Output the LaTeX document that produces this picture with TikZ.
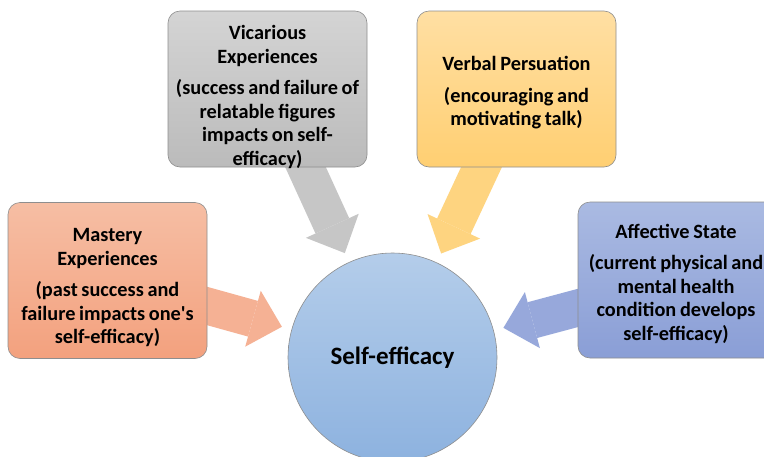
\documentclass[tikz,border=0pt]{standalone}
\usepackage{fontspec}
\setmainfont[WordSpace=0.8]{Carlito}
\usetikzlibrary{arrows.meta}

\definecolor{edgegray}{HTML}{8E8E8E}
\definecolor{masttop}{HTML}{F6BEA4}
\definecolor{mastbot}{HTML}{F3A17E}
\definecolor{mastarrow}{HTML}{F5B194}
\definecolor{victop}{HTML}{D4D4D4}
\definecolor{vicbot}{HTML}{BBBBBB}
\definecolor{vicarrow}{HTML}{C6C6C6}
\definecolor{verbtop}{HTML}{FFDFA3}
\definecolor{verbbot}{HTML}{FFCF72}
\definecolor{verbarrow}{HTML}{FED480}
\definecolor{afftop}{HTML}{AABAE2}
\definecolor{affbot}{HTML}{8A9ED6}
\definecolor{affarrow}{HTML}{97A8DB}
\definecolor{selftop}{HTML}{B4CDEA}
\definecolor{selfbot}{HTML}{8DB2DF}

\pgfdeclarelayer{back}
\pgfsetlayers{back,main}

\begin{document}
\begin{tikzpicture}[x=1pt,y=1pt]
	\tikzset{source/.style={draw=edgegray,line width=0.6pt,rounded corners=12pt,minimum width=199pt,minimum height=156pt},
		caption/.style={align=center,inner sep=0pt,font=\bfseries\fontsize{20.3}{23.5}\selectfont},
		feed/.style={line width=37pt,shorten >=10pt,-{Triangle[width=58pt,length=30pt,line width=0pt]}}}
	\useasboundingbox (0,0) rectangle (764,-456);

	\node[draw=edgegray,line width=0.6pt,circle,minimum size=209pt,top color=selftop,bottom color=selfbot,
		font=\bfseries\fontsize{25}{30}\selectfont] (self) at (392.5,-357.5) {Self-efficacy};

	\node[source,top color=masttop,bottom color=mastbot] (mastery) at (107.5,-280.5) {};
	\node[source,top color=victop,bottom color=vicbot] (vicarious) at (267.5,-89) {};
	\node[source,top color=verbtop,bottom color=verbbot] (verbal) at (516.5,-89) {};
	\node[source,top color=afftop,bottom color=affbot] (affective) at (677.5,-280) {};

	\node[caption] (masterytext) at ([yshift=-7.5]mastery)
		{Mastery\\Experiences\\[8pt](past success and\\failure impacts one\textquotesingle s\\self-efficacy)};
	\node[caption] (vicarioustext) at ([yshift=-8]vicarious)
		{Vicarious\\Experiences\\[8pt](success and failure of\\relatable figures\\impacts on self-\\efficacy)};
	\node[caption] (verbaltext) at ([yshift=-4]verbal)
		{Verbal Persuation\\[8pt](encouraging and\\motivating talk)};
	\node[caption] (affectivetext) at ([shift={(-1.5,-3.5)}]affective)
		{Affective State\\[8pt](current physical and\\mental health\\condition develops\\self-efficacy)};

	% block arrows sit behind the boxes
	\begin{pgfonlayer}{back}
		\fill[white] (0,0) rectangle (764,-456);
		\draw[feed,mastarrow] ([shift={(-14.5,-21.5)}]mastery.east) -- (self);
		\draw[feed,vicarrow] ([shift={(32.3,12.7)}]vicarious.south) -- (self);
		\draw[feed,verbarrow] ([shift={(-29.2,12.6)}]verbal.south) -- (self);
		\draw[feed,affarrow] ([shift={(14.5,-24.1)}]affective.west) -- (self);
	\end{pgfonlayer}
\end{tikzpicture}
\end{document}
